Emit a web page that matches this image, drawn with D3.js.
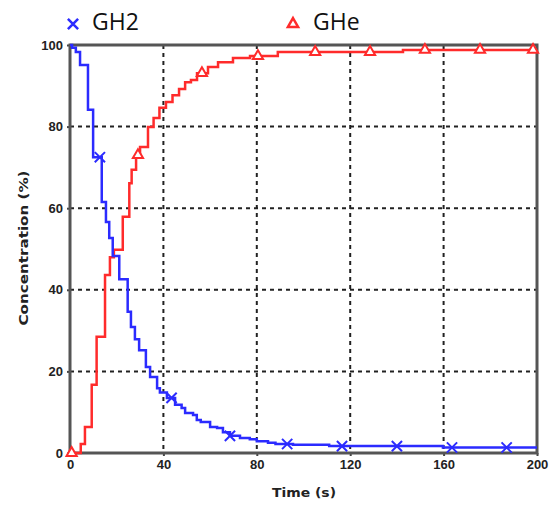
<!DOCTYPE html>
<html>
<head>
<meta charset="utf-8">
<script src="https://cdn.jsdelivr.net/npm/d3@7"></script>
<style>
  body { margin: 0; background: #fff; }
  svg { display: block; }
</style>
</head>
<body>
<script>
// step data (time in s, concentration in %)
var h2Time = [0, 0.9, 2.5, 4.3, 7.7, 9.9, 13.6, 15.4, 16.8, 18.3, 21.1, 24.7, 26.1, 27.8, 29.6, 32.5, 34.3, 37.3, 38.5, 41.5, 45, 47.8, 49.3, 52.7, 54.3, 56, 60, 63, 65.5, 68.5, 72.8, 77, 80, 84.8, 88, 95.5, 111, 159.7, 200];
var h2Conc = [100, 99.3, 98.3, 95.1, 84.1, 72.5, 61.5, 56.6, 52.7, 48.3, 42.6, 34.6, 30.9, 27.9, 25.2, 21.1, 18.6, 15.9, 14.8, 13.5, 11.8, 11.0, 9.8, 9.3, 8.1, 7.6, 6.4, 6.1, 5.1, 4.2, 3.7, 3.4, 2.9, 2.5, 2.2, 2.0, 1.7, 1.35, 1.35];
var heTime = [0, 4.6, 6.4, 9.3, 11.4, 15, 17.1, 18.8, 22.6, 25.4, 26.4, 28.3, 30, 33.4, 35.8, 38.3, 41.1, 43.9, 46.7, 49.3, 51.8, 54.4, 59.1, 63.4, 69.8, 77.1, 89, 142.6, 200];
var heConc = [0, 2.2, 6.4, 16.7, 28.5, 43.6, 48, 49.8, 57.9, 66.1, 69.4, 73, 75, 79.9, 82.1, 84.6, 86, 87.7, 89.2, 90.9, 91.4, 93.1, 94.6, 95.8, 96.8, 97.3, 98.3, 98.8, 98.8];

// times where the markers sit
var h2MarkTime = [12.8, 43.5, 68.5, 93, 116.5, 140, 163.6, 187];
var heMarkTime = [0.7, 29.1, 56.5, 80.5, 105, 128.5, 152, 175.6, 198.3];

var xTicks = [0, 40, 80, 120, 160, 200];
var yTicks = [0, 20, 40, 60, 80, 100];
var seriesNames = ['GH2', 'GHe'];

var blue = '#2b2bff', red = '#ff2b2b';

var svg = d3.select('body').append('svg')
  .attr('width', 552)
  .attr('height', 508);

var x = d3.scaleLinear().domain([0, 200]).range([70, 537]);
var y = d3.scaleLinear().domain([0, 100]).range([453, 45]);

// gridlines
svg.append('g').selectAll('line').data(xTicks.slice(1, -1)).enter().append('line')
  .attr('x1', function(d){ return x(d) }).attr('x2', function(d){ return x(d) })
  .attr('y1', y(100)).attr('y2', y(0))
  .attr('stroke', '#222').attr('stroke-width', 2).attr('stroke-dasharray', '4,4');
svg.append('g').selectAll('line').data(yTicks.slice(1, -1)).enter().append('line')
  .attr('y1', function(d){ return y(d) }).attr('y2', function(d){ return y(d) })
  .attr('x1', x(0)).attr('x2', x(200))
  .attr('stroke', '#222').attr('stroke-width', 2).attr('stroke-dasharray', '4,4');

// axes
var xAxis = svg.append('g')
  .attr('transform', 'translate(0,' + y(0) + ')')
  .call(d3.axisBottom(x).tickValues(xTicks).tickSize(3).tickPadding(4));
var yAxis = svg.append('g')
  .attr('transform', 'translate(' + x(0) + ',0)')
  .call(d3.axisLeft(y).tickValues(yTicks).tickSize(3).tickPadding(4));
[xAxis, yAxis].forEach(function(a){
  a.select('.domain').remove();
  a.selectAll('.tick line').attr('stroke', '#444').attr('stroke-width', 2);
  a.selectAll('.tick text')
    .attr('fill', '#222')
    .style('font-family', '"Liberation Sans", Arial, sans-serif')
    .style('font-weight', 'bold')
    .style('font-size', '13px');
});

// frame
svg.append('rect')
  .attr('x', x(0)).attr('y', y(100))
  .attr('width', x(200) - x(0)).attr('height', y(0) - y(100))
  .attr('fill', 'none').attr('stroke', '#555').attr('stroke-width', 3);

// curves
var line = d3.line()
  .x(function(d){ return x(d[0]) })
  .y(function(d){ return y(d[1]) })
  .curve(d3.curveStepAfter);

var h2 = d3.zip(h2Time, h2Conc);
var he = d3.zip(heTime, heConc);

function valueAt(times, concs, t) {
  var i = d3.bisectRight(times, t) - 1;
  return concs[Math.max(0, i)];
}

svg.append('path').datum(he)
  .attr('d', line).attr('fill', 'none')
  .attr('stroke', red).attr('stroke-width', 2.5);
svg.append('path').datum(h2)
  .attr('d', line).attr('fill', 'none')
  .attr('stroke', blue).attr('stroke-width', 2.5);

var cross = d3.symbol().type(d3.symbolX).size(70);
var tri = d3.symbol().type(d3.symbolTriangle).size(45);

svg.append('g').selectAll('path').data(h2MarkTime).enter().append('path')
  .attr('d', cross)
  .attr('transform', function(d){ return 'translate(' + x(d) + ',' + y(valueAt(h2Time, h2Conc, d)) + ')' })
  .attr('fill', 'none').attr('stroke', blue).attr('stroke-width', 2);

svg.append('g').selectAll('path').data(heMarkTime).enter().append('path')
  .attr('d', tri)
  .attr('transform', function(d){ return 'translate(' + x(d) + ',' + y(valueAt(heTime, heConc, d)) + ')' })
  .attr('fill', '#fff').attr('stroke', red).attr('stroke-width', 2);

// axis titles
svg.append('text')
  .attr('x', 304).attr('y', 497)
  .attr('text-anchor', 'middle')
  .attr('textLength', 64).attr('lengthAdjust', 'spacingAndGlyphs')
  .style('font-family', '"DejaVu Sans", sans-serif')
  .style('font-weight', 'bold').style('font-size', '13px')
  .attr('fill', '#222')
  .text('Time (s)');
svg.append('text')
  .attr('transform', 'translate(28,248) rotate(-90)')
  .attr('text-anchor', 'middle')
  .attr('textLength', 155).attr('lengthAdjust', 'spacingAndGlyphs')
  .style('font-family', '"DejaVu Sans", sans-serif')
  .style('font-weight', 'bold').style('font-size', '13px')
  .attr('fill', '#222')
  .text('Concentration (%)');

// legend
var legend = svg.append('g');
legend.append('path')
  .attr('d', cross)
  .attr('transform', 'translate(73,24)')
  .attr('fill', 'none').attr('stroke', blue).attr('stroke-width', 2.5);
legend.append('path')
  .attr('d', tri)
  .attr('transform', 'translate(293,24)')
  .attr('fill', '#fff').attr('stroke', red).attr('stroke-width', 2.5);
legend.selectAll('text').data(seriesNames).enter().append('text')
  .attr('x', function(d, i){ return i == 0 ? 92 : 313 })
  .attr('y', 30)
  .style('font-family', '"Open Sans", sans-serif')
  .style('font-size', '23px')
  .attr('fill', '#111')
  .text(function(d){ return d });
</script>
</body>
</html>
